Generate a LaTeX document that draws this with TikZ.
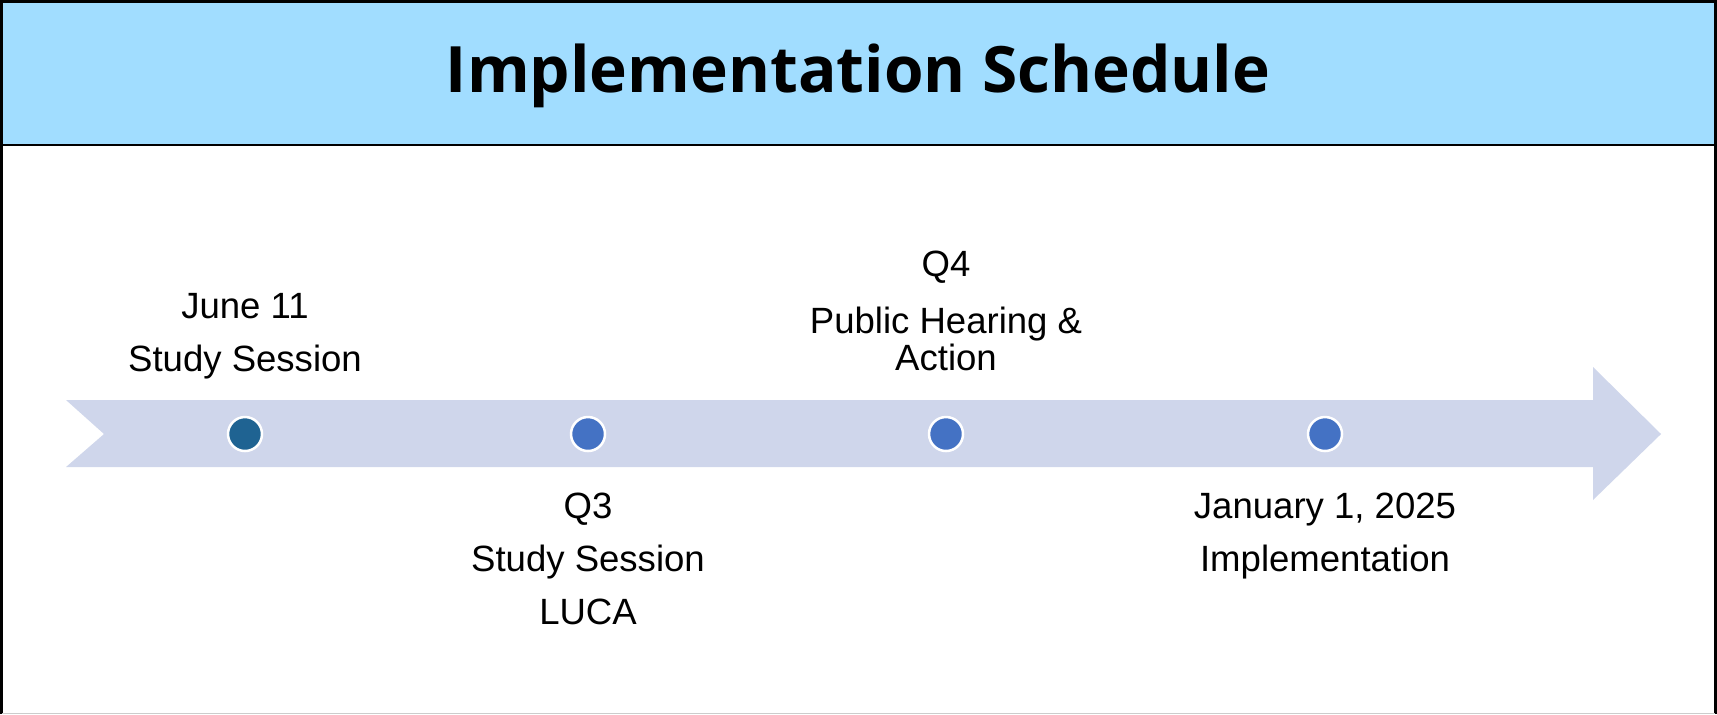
\documentclass[tikz,border=0pt]{standalone}
\usepackage{fontspec}
\setmainfont{Liberation Sans}
\newfontfamily\titlefont{Open Sans}
\usepackage{tikz}
\usetikzlibrary{arrows}

\definecolor{headblue}{HTML}{A1DDFF}
\definecolor{arrowgray}{HTML}{CFD6EB}
\definecolor{dotdark}{HTML}{1F6392}
\definecolor{dotblue}{HTML}{4472C4}

\tikzset{
  milestone/.style={circle, fill=#1, draw=white, line width=0.25mm, minimum size=3.4mm, inner sep=0pt},
  milelabel/.style={align=center, inner sep=0pt, font=\fontsize{10.4}{15.1}\selectfont}
}

\begin{document}
\begin{tikzpicture}[x=0.1mm, y=-0.1mm]
\useasboundingbox (0,0) rectangle (1717,714);
% frame and header
\fill[headblue] (2,2) rectangle (1715,145);
\draw[line width=0.3mm] (1.5,714) -- (1.5,1.5) -- (1715.5,1.5) -- (1715.5,714);
\draw[line width=0.2mm] (1.5,145) -- (1715.5,145);
\draw[black!20, line width=0.15mm] (2,713.3) -- (1715,713.3);
\node[font=\titlefont\bfseries\fontsize{18.2}{22}\selectfont] (title) at (858,76) {Implementation Schedule};
% timeline arrow
\fill[arrowgray] (66,400) -- (1593,400) -- (1593,367) -- (1661,434) -- (1593,500)
  -- (1593,467) -- (66,467) -- (104,434) -- cycle;
% dots
\node[milestone=dotdark] (d1) at (245,434) {};
\foreach \n/\x in {2/588,3/946,4/1325} {\node[milestone=dotblue] (d\n) at (\x,434) {};}
% labels
\node[milelabel] (l1) at (245,336) {June 11\\Study Session};
\node[milelabel] (l2) at (588,559) {Q3\\Study Session\\LUCA};
\node[milelabel] (l3) at (946,311) {Q4\\[1pt]Public Hearing \&\\[-4.4pt]Action};
\node[milelabel] (l4) at (1325,536) {January 1, 2025\\Implementation};
\end{tikzpicture}
\end{document}
